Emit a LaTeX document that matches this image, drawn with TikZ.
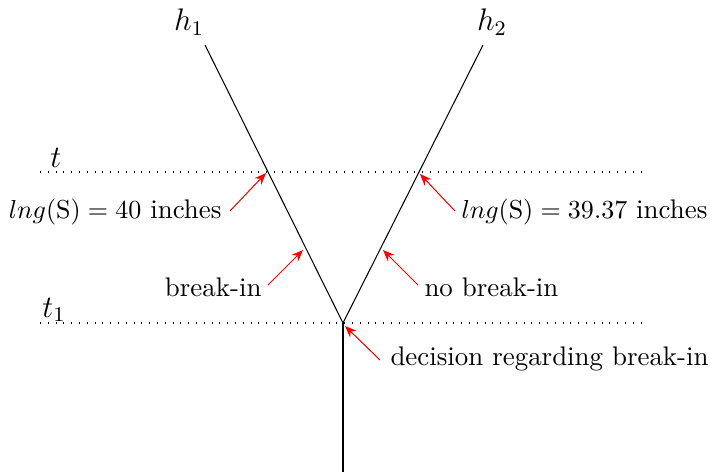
\documentclass[tikz,border=0pt]{standalone}
\usetikzlibrary{arrows.meta}
\begin{document}
\begin{tikzpicture}[x=0.01352cm,y=-0.01352cm,
  branch/.style={black,line width=0.4pt},
  timeline/.style={line width=0.4pt,dash pattern=on 0.4pt off 2.6pt},
  pointer/.style={red,line width=0.4pt,-{Stealth[length=4.5pt,width=3.6pt]}},
  lbl/.style={inner sep=0pt,font=\fontsize{10.35}{12.4}\selectfont},
  axlbl/.style={inner sep=0pt,font=\large}]
\useasboundingbox (0,0) rectangle (710,474);
% key points
\coordinate (v) at (343,323);
\coordinate (bot) at (343,472);
\coordinate (h1end) at (205,45);
\coordinate (h2end) at (483,45);
\coordinate (tL) at (40,172);
\coordinate (tR) at (642,172);
\coordinate (t1L) at (40,323);
\coordinate (t1R) at (642,323);
% timelines
\draw[timeline] (tL) -- (tR);
\draw[timeline] (t1L) -- (t1R);
% branches
\draw[branch] (bot) -- (v);
\draw[branch] (v) -- (h1end);
\draw[branch] (v) -- (h2end);
% labels
\node[axlbl] (h1) at (189,22) {$h_1$};
\node[axlbl] (h2) at (492,22) {$h_2$};
\node[axlbl] (t) at (56,158) {$t$};
\node[axlbl] (t1) at (54,310) {$t_1$};
% annotation labels
\node[lbl,anchor=east] (l40) at (222,212) {$lng(\mathrm{S})=40$ inches};
\node[lbl,anchor=west] (l39) at (461,212) {$lng(\mathrm{S})=39.37$ inches};
\node[lbl,anchor=east] (bi) at (262,287) {break-in};
\node[lbl,anchor=west] (nbi) at (424,287) {no break-in};
\node[lbl,anchor=west] (dec) at (390,359) {decision regarding break-in};
% arrow targets
\coordinate (a40) at (266,173);
\coordinate (a39) at (420,174);
\coordinate (abi) at (303,250);
\coordinate (anbi) at (383,250);
\coordinate (adec) at (345,326);
\coordinate (s40) at (230,211);
\coordinate (s39) at (455,211);
\coordinate (sbi) at (268,285);
\coordinate (snbi) at (418,285);
\coordinate (sdec) at (380,360);
\draw[pointer] (s40) -- (a40);
\draw[pointer] (s39) -- (a39);
\draw[pointer] (sbi) -- (abi);
\draw[pointer] (snbi) -- (anbi);
\draw[pointer] (sdec) -- (adec);
\end{tikzpicture}
\end{document}
